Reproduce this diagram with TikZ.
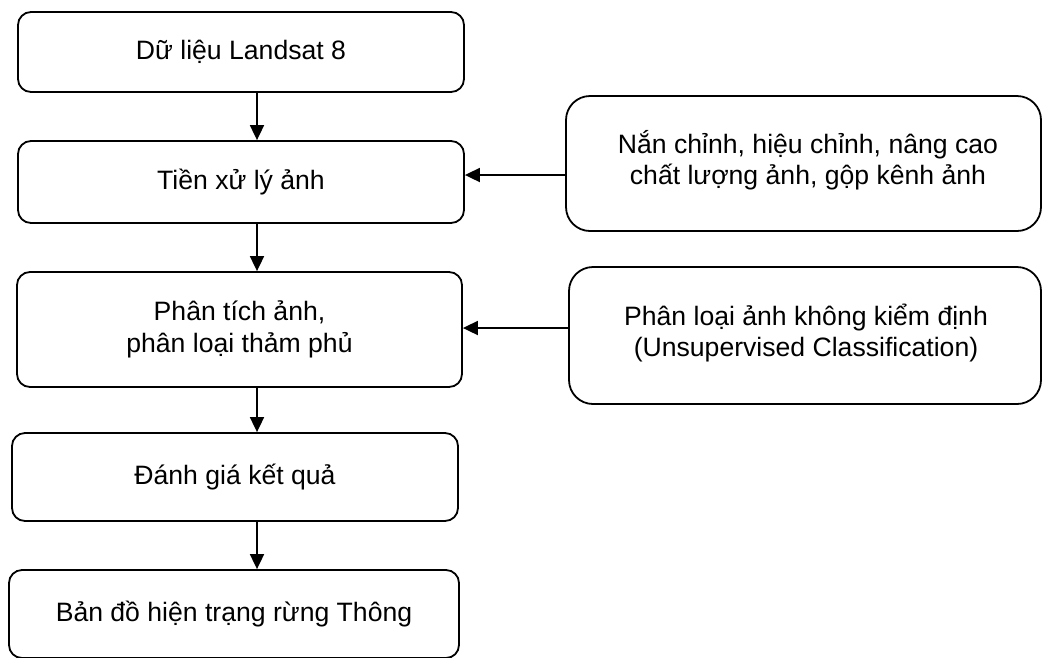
\documentclass[tikz,border=0pt]{standalone}
\usepackage{fontspec}
\setmainfont{Liberation Sans}
\usetikzlibrary{arrows.meta,calc}
\tikzset{
  stepbox/.style={draw=black, line width=1.8pt, rounded corners=13pt, inner sep=0pt, align=center,
    font=\fontsize{26.6}{31.5}\selectfont},
  sidebox/.style={stepbox, rounded corners=24pt},
  arr/.style={draw=black, line width=1.8pt, -{Triangle[length=15pt,width=14pt]}}
}
\begin{document}
\begin{tikzpicture}[x=1pt,y=-1pt]
\useasboundingbox (0,0) rectangle (1043,657);
\node[stepbox, minimum width=446pt, minimum height=80pt] (b1) at (241,52) {Dữ liệu Landsat 8};
\node[stepbox, minimum width=446pt, minimum height=82pt] (b2) at (241,182) {Tiền xử lý ảnh};
\node[stepbox, minimum width=445pt, minimum height=115pt] (b3) at (239.5,329.5) {Phân tích ảnh,\\phân loại thảm phủ};
\node[stepbox, minimum width=446pt, minimum height=88pt] (b4) at (235,477) {Đánh giá kết quả};
\node[stepbox, minimum width=450pt, minimum height=88pt] (b5) at (234,614) {Bản đồ hiện trạng rừng Thông};
\node[sidebox, minimum width=475pt, minimum height=135pt] (r1) at (803.5,163.5) {};
\node[align=center, inner sep=0pt, font=\fontsize{26.6}{31.5}\selectfont] (t1) at (808,160) {Nắn chỉnh, hiệu chỉnh, nâng cao\\chất lượng ảnh, gộp kênh ảnh};
\node[sidebox, minimum width=472pt, minimum height=137pt] (r2) at (805,335.5) {};
\node[align=center, inner sep=0pt, font=\fontsize{26.6}{31.5}\selectfont] (t2) at (806,333) {Phân loại ảnh không kiểm định\\(Unsupervised Classification)};
\coordinate (ax) at (257,0);
\coordinate (ay1) at (0,175);
\coordinate (ay2) at (0,328);
\draw[arr] (b1.south -| ax) -- (b2.north -| ax);
\draw[arr] (b2.south -| ax) -- (b3.north -| ax);
\draw[arr] (b3.south -| ax) -- (b4.north -| ax);
\draw[arr] (b4.south -| ax) -- (b5.north -| ax);
\draw[arr] (r1.west |- ay1) -- (b2.east |- ay1);
\draw[arr] (r2.west |- ay2) -- (b3.east |- ay2);
\end{tikzpicture}
\end{document}
